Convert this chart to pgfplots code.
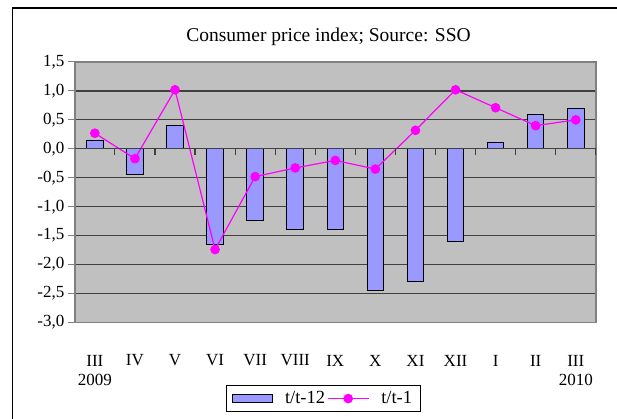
\documentclass[border=0pt]{standalone}
\usepackage{pgfplots}
\pgfplotsset{compat=1.18}
\usepackage{fontspec}
\setmainfont{Liberation Serif}
\definecolor{barfill}{HTML}{9999FF}
\definecolor{plotbg}{HTML}{C0C0C0}
\definecolor{pinkline}{HTML}{FF00FF}
\begin{document}
\begin{tikzpicture}
\begin{axis}[
  at={(74.8pt,96.5pt)}, anchor=south west, scale only axis,
  width=521pt, height=260.5pt,
  xmin=-0.5, xmax=12.5, ymin=-3, ymax=1.5,
  axis background/.style={fill=plotbg},
  axis line style={draw=black!50, line width=1.5pt},
  ytick={-3,-2.5,-2,-1.5,-1,-0.5,0,0.5,1,1.5},
  ytick pos=left, tick align=outside, major tick length=7pt,
  ytick style={draw=black!50, line width=1pt},
  yticklabel style={/pgf/number format/.cd, fixed, fixed zerofill, precision=1, use comma, assume math mode=true},
  ymajorgrids, grid style={draw=black!75, line width=1.2pt},
  xtick={0,1,2,3,4,5,6,7,8,9,10,11,12},
  xticklabels={III,IV,V,VI,VII,VIII,IX,X,XI,XII,I,II,III},
  xtick style={draw=none},
  xticklabel style={anchor=center, yshift=-31pt},
  tick label style={font=\fontsize{17}{20}\selectfont},
  legend style={at={(0.4765,-0.292)}, anchor=center, draw=black, line width=1pt,
    font=\fontsize{18.5}{21}\selectfont, legend columns=2,
    /tikz/every odd column/.append style={column sep=10pt},
    inner xsep=6pt, inner ysep=4pt},
  legend cell align=left,
  clip=false,
]
\addplot[ybar, bar width=16.5pt, fill=barfill, draw=black, line width=1pt,
  legend image code/.code={\draw[fill=barfill,draw=black,line width=1pt] (0pt,-4pt) rectangle (40pt,4pt);}]
  coordinates {(0,0.15) (1,-0.44) (2,0.41) (3,-1.65) (4,-1.24) (5,-1.39) (6,-1.39) (7,-2.45) (8,-2.30) (9,-1.60) (10,0.11) (11,0.59) (12,0.70)};
\addlegendentry{t/t-12}
\addplot[draw=pinkline, line width=1.2pt, mark=*, mark size=4.2pt, mark options={fill=pinkline, draw=pinkline},
  legend image code/.code={\draw[pinkline,line width=1.2pt] (0pt,0pt) -- (41pt,0pt); \fill[pinkline] (20.5pt,0pt) circle (4.2pt);}]
  coordinates {(0,0.27) (1,-0.17) (2,1.02) (3,-1.74) (4,-0.48) (5,-0.33) (6,-0.20) (7,-0.35) (8,0.32) (9,1.02) (10,0.71) (11,0.40) (12,0.50)};
\addlegendentry{t/t-1}
\draw[black!75, line width=1.2pt] (axis cs:-0.5,0) -- (axis cs:12.5,0);
\pgfplotsinvokeforeach{0.5,1.5,2.5,3.5,4.5,5.5,6.5,7.5,8.5,9.5,10.5,11.5,12.5}{
  \draw[black!75, line width=1.2pt] (axis cs:#1,0) -- ([yshift=-6pt]axis cs:#1,0);
}
\node[font=\fontsize{17}{20}\selectfont] at ([yshift=-57.5pt]axis cs:0,-3) {2009};
\node[font=\fontsize{17}{20}\selectfont] at ([yshift=-57.5pt]axis cs:12,-3) {2010};
\end{axis}
\node[font=\fontsize{19.5}{22}\selectfont] at (328.5pt,382pt) {Consumer price index; Source: SSO};
\pgfresetboundingbox
\useasboundingbox (0pt,0pt) rectangle (617pt,419pt);
\draw[line width=1.5pt] (12.5pt,-5pt) -- (12.5pt,411pt) -- (625pt,411pt);
\end{tikzpicture}
\end{document}
